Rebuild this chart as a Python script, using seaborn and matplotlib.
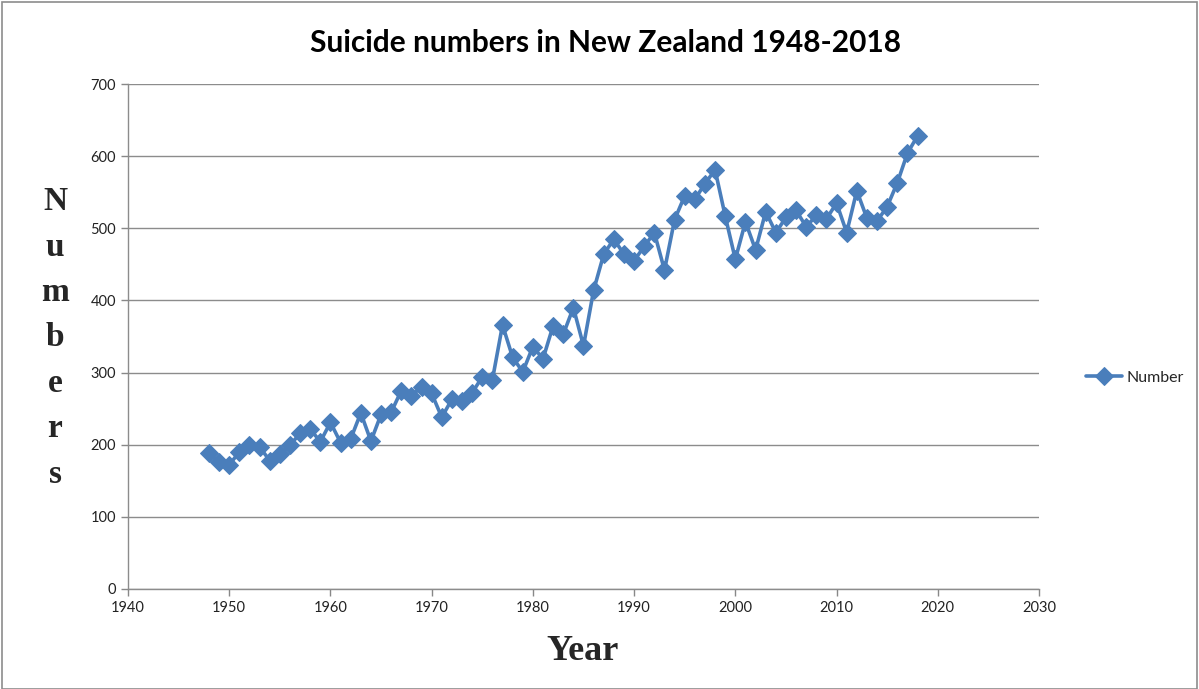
import matplotlib
matplotlib.use("Agg")
import matplotlib.pyplot as plt
from matplotlib.patches import Rectangle
import seaborn as sns
import pandas as pd

years = list(range(1948, 2019))
numbers = [188, 176, 172, 190, 199, 197, 178, 187, 199, 216,
           222, 204, 231, 203, 208, 244, 205, 242, 245, 275,
           268, 280, 271, 238, 263, 260, 272, 294, 290, 366,
           321, 301, 336, 319, 365, 353, 390, 337, 414, 464,
           485, 464, 455, 475, 494, 442, 512, 545, 540, 562,
           581, 517, 457, 509, 470, 523, 494, 515, 525, 502,
           518, 513, 535, 494, 552, 514, 510, 530, 563, 604, 628]
x_ticks = [1940, 1950, 1960, 1970, 1980, 1990, 2000, 2010, 2020, 2030]
y_ticks = [0, 100, 200, 300, 400, 500, 600, 700]

df = pd.DataFrame({"Year": years, "Number": numbers})

sns.set_theme(style="white")
plt.rcParams["font.family"] = ["Lato", "DejaVu Sans"]

fig = plt.figure(figsize=(11.99, 6.89), dpi=100)
W, H = 1199, 689
ax = fig.add_axes([128 / W, 1 - 589 / H, (1039 - 128) / W, (589 - 84) / H])

blue = "#4A7EBB"
sns.lineplot(data=df, x="Year", y="Number", ax=ax, color=blue, lw=2.6,
             marker="D", markersize=9, markeredgecolor=blue,
             label="Number", legend=False)

ax.set_xlim(x_ticks[0], x_ticks[-1])
ax.set_ylim(y_ticks[0], y_ticks[-1])
ax.set_xticks(x_ticks)
ax.set_yticks(y_ticks)
ax.tick_params(axis="both", labelsize=10.5, length=5, width=1,
               direction="out", bottom=True, left=True,
               colors="#888888", labelcolor="#222222")
ax.yaxis.grid(True, color="#8c8c8c", lw=1)
ax.xaxis.grid(False)
for s in ["top", "right"]:
    ax.spines[s].set_visible(False)
for s in ["left", "bottom"]:
    ax.spines[s].set_color("#8c8c8c")
    ax.spines[s].set_linewidth(1)
ax.set_xlabel("")
ax.set_ylabel("")

fig.text(605 / W, 1 - 43 / H, "Suicide numbers in New Zealand 1948-2018",
         ha="center", va="center", fontsize=21.5, fontweight="bold", color="black")
fig.text(583 / W, 1 - 651 / H, "Year", ha="center", va="center",
         fontsize=26, fontweight="bold", family="Liberation Serif")
fig.text(55 / W, 1 - 338 / H, "N\nu\nm\nb\ne\nr\ns", ha="center", va="center",
         fontsize=24, fontweight="bold", family="Liberation Serif",
         linespacing=1.6)

handles, labels = ax.get_legend_handles_labels()
fig.legend(handles, labels, loc="center left",
           bbox_to_anchor=(1072 / W, 1 - 378 / H), frameon=False,
           fontsize=11.5, handlelength=2.2, handletextpad=0.3)

fig.add_artist(Rectangle((2 / W, 0.5 / H), (W - 4) / W, (H - 2) / H,
                         transform=fig.transFigure, fill=False,
                         edgecolor="#8c8c8c", lw=1.2))

fig.savefig("out.png", dpi=100)
